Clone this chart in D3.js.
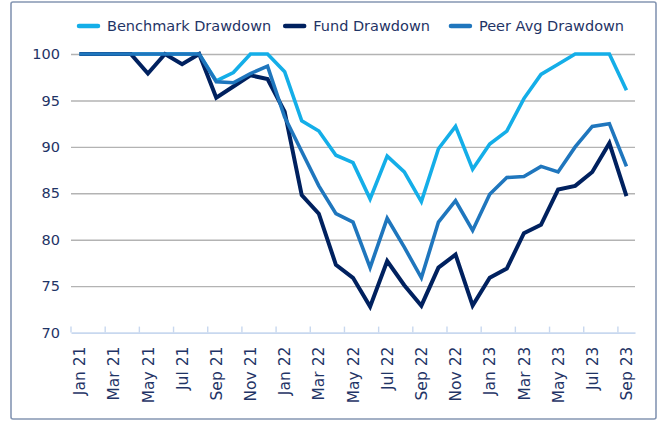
<!DOCTYPE html>
<html>
<head>
<meta charset="utf-8">
<script src="https://cdn.jsdelivr.net/npm/d3@7"></script>
<style>
  html, body { margin: 0; padding: 0; background: #fff; }
  svg { display: block; font-family: "DejaVu Sans", sans-serif; }
</style>
</head>
<body>
<svg id="chart" width="660" height="423"></svg>
<script>
const months = ["Jan 21","Feb 21","Mar 21","Apr 21","May 21","Jun 21","Jul 21","Aug 21","Sep 21","Oct 21","Nov 21","Dec 21",
                "Jan 22","Feb 22","Mar 22","Apr 22","May 22","Jun 22","Jul 22","Aug 22","Sep 22","Oct 22","Nov 22","Dec 22",
                "Jan 23","Feb 23","Mar 23","Apr 23","May 23","Jun 23","Jul 23","Aug 23","Sep 23"];
const benchmark = [100,100,100,100,100,100,100,100,97.1,98.0,100,100,
                   98.1,92.8,91.7,89.1,88.3,84.4,89.0,87.3,84.1,89.8,92.2,87.6,
                   90.3,91.7,95.2,97.8,98.9,100,100,100,96.1];
const fund = [100,100,100,100,97.9,100,98.9,100,95.3,96.5,97.7,97.3,
              93.8,84.8,82.8,77.3,75.9,72.8,77.7,75.1,72.9,77.0,78.4,72.9,
              75.9,76.9,80.7,81.6,85.4,85.8,87.3,90.4,84.7];
const peer = [100,100,100,100,100,100,100,100,97.0,96.9,97.9,98.7,
              93.2,89.5,85.8,82.8,81.9,77.0,82.3,79.2,75.9,81.9,84.2,81.0,
              84.9,86.7,86.8,87.9,87.3,90.0,92.2,92.5,87.9];
const yTicks = [70,75,80,85,90,95,100];
const seriesNames = ["Benchmark Drawdown","Fund Drawdown","Peer Avg Drawdown"];
const seriesColors = ["#14AEE8","#00215F","#1F76BD"];

const series = [benchmark, fund, peer];
const svg = d3.select("#chart");

// frame
svg.append("rect").attr("x",11).attr("y",2).attr("width",645).attr("height",417)
  .attr("rx",2).attr("fill","#fff").attr("stroke","#8596b3").attr("stroke-width",1.6);

const mLeft = 71, mRight = 635, mTop = 54, mBottom = 332.6;
const x = d3.scaleBand().domain(months).range([mLeft, mRight]).paddingInner(0).paddingOuter(0);
const y = d3.scaleLinear().domain([70,100]).range([mBottom, mTop]);

// y axis with gridlines
const yAxis = svg.append("g").attr("transform", `translate(${mLeft},0)`)
  .call(d3.axisLeft(y).tickValues(yTicks).tickSizeInner(-(mRight-mLeft)).tickSizeOuter(0).tickPadding(11));
yAxis.select(".domain").remove();
yAxis.selectAll(".tick line").attr("stroke","#b3b3b3").attr("stroke-width",1.4)
  .filter(d => d === 70).remove();
yAxis.selectAll(".tick text").attr("fill","#1F3466").attr("font-size","14.5px")
  .attr("font-family","DejaVu Sans, sans-serif");

// x axis
const xAxis = svg.append("g").attr("transform", `translate(0,${mBottom})`)
  .call(d3.axisBottom(x).tickValues(months.filter((d,i)=>i%2===0)).tickSize(0));
xAxis.select(".domain").attr("stroke","#c8d8ef").attr("stroke-width",1.6);
xAxis.selectAll(".tick text")
  .attr("transform","rotate(-90)")
  .attr("x",-14).attr("y",0).attr("dy","0.36em")
  .attr("text-anchor","end")
  .attr("fill","#1F3466").attr("font-size","15.5px")
  .attr("font-family","DejaVu Sans, sans-serif");
// tick marks between categories, every 2nd
svg.append("g").selectAll("line")
  .data(months.filter((d,i)=>i%2===0))
  .join("line")
  .attr("x1", d => x(d)).attr("x2", d => x(d))
  .attr("y1", mBottom - 6).attr("y2", mBottom)
  .attr("stroke","#c8d8ef").attr("stroke-width",1.4);

// lines
const line = d3.line()
  .x((d,i) => x(months[i]) + x.bandwidth()/2)
  .y(d => y(d));
svg.append("g").selectAll("path")
  .data(series)
  .join("path")
  .attr("d", d => line(d))
  .attr("fill","none")
  .attr("stroke",(d,i)=>seriesColors[i])
  .attr("stroke-width",(d,i)=> i===1 ? 4 : 3.6)
  .attr("stroke-linejoin","miter")
  .attr("stroke-linecap","butt");

// legend
const legend = svg.append("g").attr("transform","translate(77,26)");
let lx = 0;
seriesNames.forEach((name,i) => {
  const g = legend.append("g").attr("transform",`translate(${lx},0)`);
  g.append("line").attr("x1",2).attr("x2",21).attr("y1",0).attr("y2",0)
    .attr("stroke",seriesColors[i]).attr("stroke-width",4.5).attr("stroke-linecap","round");
  const t = g.append("text").attr("x",30).attr("y",0).attr("dy","0.35em")
    .attr("fill","#1F3466").attr("font-size","14.5px").text(name);
  const w = t.node().getComputedTextLength();
  lx += 30 + w + (i===0 ? 12 : 19);
});
</script>
</body>
</html>
